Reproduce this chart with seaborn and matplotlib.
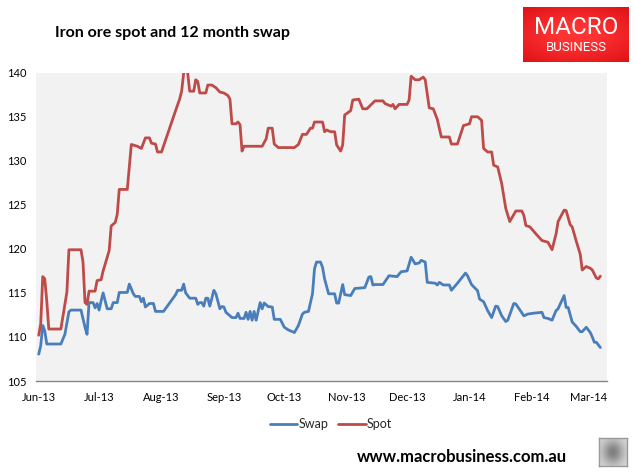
import numpy as np
import pandas as pd
import matplotlib
matplotlib.use("Agg")
import matplotlib.pyplot as plt
import matplotlib.dates as mdates
from matplotlib.lines import Line2D
import seaborn as sns

# ---------------- data (days since 1 Jun 2013) ----------------
start_date = "2013-06-01"
spot_days = [0, 1, 2, 3, 4, 5, 11, 14, 15, 21, 22, 23, 24, 25, 28, 29, 31, 32, 35, 36,
             38, 39, 40, 44, 46, 49, 51, 53, 55, 56, 58, 59, 61, 68, 70, 71, 73, 75, 77, 78,
             79, 80, 83, 84, 86, 88, 90, 92, 94, 95, 96, 98, 99, 100, 101, 102, 111, 113, 114, 116,
             117, 119, 127, 129, 131, 133, 135, 136, 137, 141, 142, 143, 145, 147, 148, 150, 151, 152, 155, 156,
             159, 161, 163, 167, 171, 172, 175, 176, 177, 179, 183, 184, 185, 187, 189, 191, 192, 194, 196, 198,
             200, 204, 205, 208, 211, 214, 215, 218, 220, 221, 223, 225, 226, 228, 230, 232, 234, 237, 240, 241,
             242, 244, 247, 250, 253, 255, 257, 258, 261, 262, 264, 265, 267, 269, 270, 272, 274, 275, 277, 278,
             279]
spot_values = [110.2, 111.5, 116.85, 116.6, 114.1, 110.9, 110.9, 115.1, 119.9, 119.9, 118.5, 113.9, 113.7, 115.2, 115.2, 116.4, 116.5, 117.5, 119.8, 122.6,
               123.0, 123.9, 126.75, 126.75, 131.85, 131.65, 131.4, 132.6, 132.6, 132.0, 131.9, 131.0, 131.0, 135.7, 137.0, 137.9, 142.0, 137.9, 137.9, 139.2,
               139.0, 137.7, 137.7, 138.6, 138.6, 138.3, 137.8, 137.7, 137.4, 137.0, 134.2, 134.2, 134.4, 134.1, 131.1, 131.65, 131.65, 132.5, 133.7, 133.7,
               131.9, 131.5, 131.5, 131.85, 133.0, 133.0, 133.7, 133.7, 134.4, 134.4, 133.3, 133.5, 133.3, 133.3, 131.8, 131.1, 131.8, 135.2, 135.7, 136.9,
               137.0, 135.9, 135.9, 136.8, 136.8, 136.5, 136.2, 136.4, 135.9, 136.4, 136.4, 136.9, 139.6, 139.2, 139.2, 139.5, 139.2, 136.0, 135.9, 134.7,
               132.7, 132.7, 131.9, 131.9, 134.0, 134.2, 135.0, 135.0, 134.6, 131.4, 131.0, 131.0, 129.5, 129.3, 127.4, 124.6, 123.1, 124.3, 124.3, 123.8,
               122.65, 122.5, 121.7, 120.95, 120.75, 119.9, 121.7, 123.1, 124.4, 124.35, 122.75, 122.5, 120.9, 119.4, 117.6, 118.0, 117.8, 117.6, 116.7, 116.6,
               116.9]

swap_days = [0, 1, 2, 3, 4, 11, 13, 15, 16, 21, 23, 24, 25, 27, 28, 29, 30, 31, 32, 34,
             36, 37, 39, 40, 44, 45, 47, 48, 50, 51, 52, 53, 55, 57, 58, 62, 68, 69, 71, 72,
             73, 75, 78, 79, 80, 81, 82, 83, 84, 85, 87, 88, 90, 91, 92, 93, 96, 98, 99, 100,
             102, 103, 104, 105, 106, 107, 108, 109, 110, 111, 112, 114, 116, 117, 120, 122, 124, 126, 127, 129,
             131, 132, 134, 136, 137, 138, 140, 141, 142, 144, 147, 148, 149, 151, 152, 155, 157, 162, 164, 165,
             166, 167, 171, 174, 178, 180, 183, 185, 187, 189, 190, 192, 193, 197, 198, 199, 201, 204, 205, 208,
             212, 213, 215, 218, 219, 221, 223, 225, 227, 228, 230, 232, 233, 236, 237, 241, 243, 246, 250, 251,
             253, 255, 257, 258, 261, 262, 263, 265, 267, 269, 270, 272, 274, 275, 276, 277, 279]
swap_values = [108.05, 109.0, 111.3, 110.7, 109.2, 109.2, 110.3, 112.85, 113.05, 113.05, 111.1, 110.3, 113.9, 113.9, 113.3, 113.8, 113.05, 114.1, 115.0, 113.2,
               113.2, 113.9, 113.9, 115.05, 115.05, 116.0, 114.9, 114.6, 114.6, 114.0, 114.4, 113.4, 113.8, 113.8, 112.9, 112.9, 114.8, 115.3, 115.3, 116.0,
               115.0, 114.4, 114.4, 113.7, 113.9, 113.9, 113.5, 114.4, 114.4, 113.5, 115.3, 114.9, 113.2, 113.45, 113.4, 112.8, 112.2, 112.2, 112.7, 112.1,
               112.1, 112.8, 112.0, 112.9, 111.9, 112.9, 111.9, 112.9, 113.9, 113.2, 113.85, 113.45, 113.4, 112.0, 112.0, 111.1, 110.8, 110.6, 110.5, 111.3,
               112.6, 112.8, 112.9, 114.9, 117.75, 118.5, 118.5, 117.9, 116.6, 114.9, 114.9, 113.85, 113.85, 115.95, 114.8, 114.7, 115.5, 115.6, 116.8, 116.85,
               115.9, 115.95, 115.95, 116.95, 116.85, 117.4, 117.5, 119.05, 118.3, 118.4, 118.7, 118.5, 116.2, 116.1, 115.9, 116.2, 115.9, 115.9, 115.3, 116.1,
               117.25, 116.95, 115.95, 115.25, 114.3, 114.0, 113.0, 112.2, 113.5, 113.45, 112.4, 111.75, 111.9, 113.8, 113.75, 112.4, 112.6, 112.7, 112.8, 112.2,
               112.1, 111.9, 113.0, 113.2, 114.7, 113.35, 113.35, 111.7, 111.2, 110.6, 110.6, 111.1, 110.5, 110.0, 109.4, 109.4, 108.8]

series_names = ["Swap", "Spot"]
y_ticks = [105, 110, 115, 120, 125, 130, 135, 140]
title_text = "Iron ore spot and 12 month swap"
url_text = "www.macrobusiness.com.au"

# ---------------- build frame ----------------
t0 = pd.Timestamp(start_date)
df = pd.concat([
    pd.DataFrame({"date": t0 + pd.to_timedelta(swap_days, unit="D"), "value": swap_values, "series": "Swap"}),
    pd.DataFrame({"date": t0 + pd.to_timedelta(spot_days, unit="D"), "value": spot_values, "series": "Spot"}),
])

sns.set_theme(style="white")
plt.rcParams["font.family"] = ["Lato", "DejaVu Sans"]

W, H = 636, 476
fig = plt.figure(figsize=(W / 100, H / 100), dpi=100)
fig.patch.set_facecolor("white")

ax = fig.add_axes([36 / W, 1 - 381 / H, (607 - 36) / W, (381 - 72.7) / H])
ax.set_facecolor("#F2F2F2")

colors = {"Swap": "#4A7EBB", "Spot": "#BE4B48"}
sns.lineplot(data=df, x="date", y="value", hue="series", palette=colors,
             linewidth=2.0, ax=ax, legend=False, estimator=None, sort=True)

ax.set_ylim(105, 140)
ax.set_yticks(y_ticks)
ax.set_xlim(t0 - pd.Timedelta(days=1.35), t0 + pd.Timedelta(days=282.3))
ax.xaxis.set_major_locator(mdates.MonthLocator())
ax.xaxis.set_major_formatter(mdates.DateFormatter("%b-%y"))
ax.set_xlabel("")
ax.set_ylabel("")
for s in ["top", "right", "left"]:
    ax.spines[s].set_visible(False)
ax.spines["bottom"].set_color("#868686")
ax.spines["bottom"].set_linewidth(1.0)
ax.tick_params(axis="both", length=0, labelsize=8, colors="black")
ax.tick_params(axis="y", pad=7)
ax.tick_params(axis="x", pad=8)
ax.grid(False)

# legend
handles = [Line2D([0], [0], color=colors[n], lw=2.0) for n in series_names]
fig.legend(handles, series_names, loc="center", bbox_to_anchor=(331 / W, 1 - 424 / H),
           ncol=2, frameon=False, fontsize=9, handlelength=2.2, handletextpad=0.1,
           columnspacing=0.8)

# title
fig.text(55 / W, 1 - 33 / H, title_text, fontsize=11.5, fontweight="bold",
         ha="left", va="center", color="black")

# url
fig.text(357 / W, 1 - 457 / H, url_text, fontsize=12, fontweight="bold",
         ha="left", va="center", color="black")

# logo
lax = fig.add_axes([523 / W, 1 - 62 / H, (629 - 523) / W, (62 - 7) / H])
yy, xx = np.mgrid[-1:1:60j, -1:1:110j]
r = np.sqrt((xx * 0.8) ** 2 + (yy * 0.9) ** 2)
base = np.array([1.0, 0.20, 0.20])
edge = np.array([0.86, 0.06, 0.08])
t = np.clip((r - 0.3) / 1.0, 0, 1)[..., None]
img = base * (1 - t) + edge * t
lax.imshow(img, aspect="auto", extent=[0, 1, 0, 1])
lax.set_axis_off()
lax.text(0.5, 0.63, "MACRO", color="white", fontsize=17.5, ha="center", va="center",
         family=["Roboto", "DejaVu Sans"], fontweight="normal")
lax.text(0.5, 0.27, "BUSINESS", color="white", fontsize=9.5, ha="center", va="center",
         family=["Roboto", "DejaVu Sans"], fontweight="normal")

# small wolf badge
wax = fig.add_axes([599 / W, 1 - 466 / H, 28 / W, 28 / H])
gy, gx = np.mgrid[-1:1:28j, -1:1:28j]
face = 0.85 - 0.35 * np.exp(-((gx * 1.3) ** 2 + (gy * 1.1) ** 2))
wax.imshow(face, cmap="gray", vmin=0, vmax=1, aspect="auto")
wax.set_xticks([]); wax.set_yticks([])
for s in wax.spines.values():
    s.set_color("#999999"); s.set_linewidth(1)

fig.savefig("out.png", dpi=100)
